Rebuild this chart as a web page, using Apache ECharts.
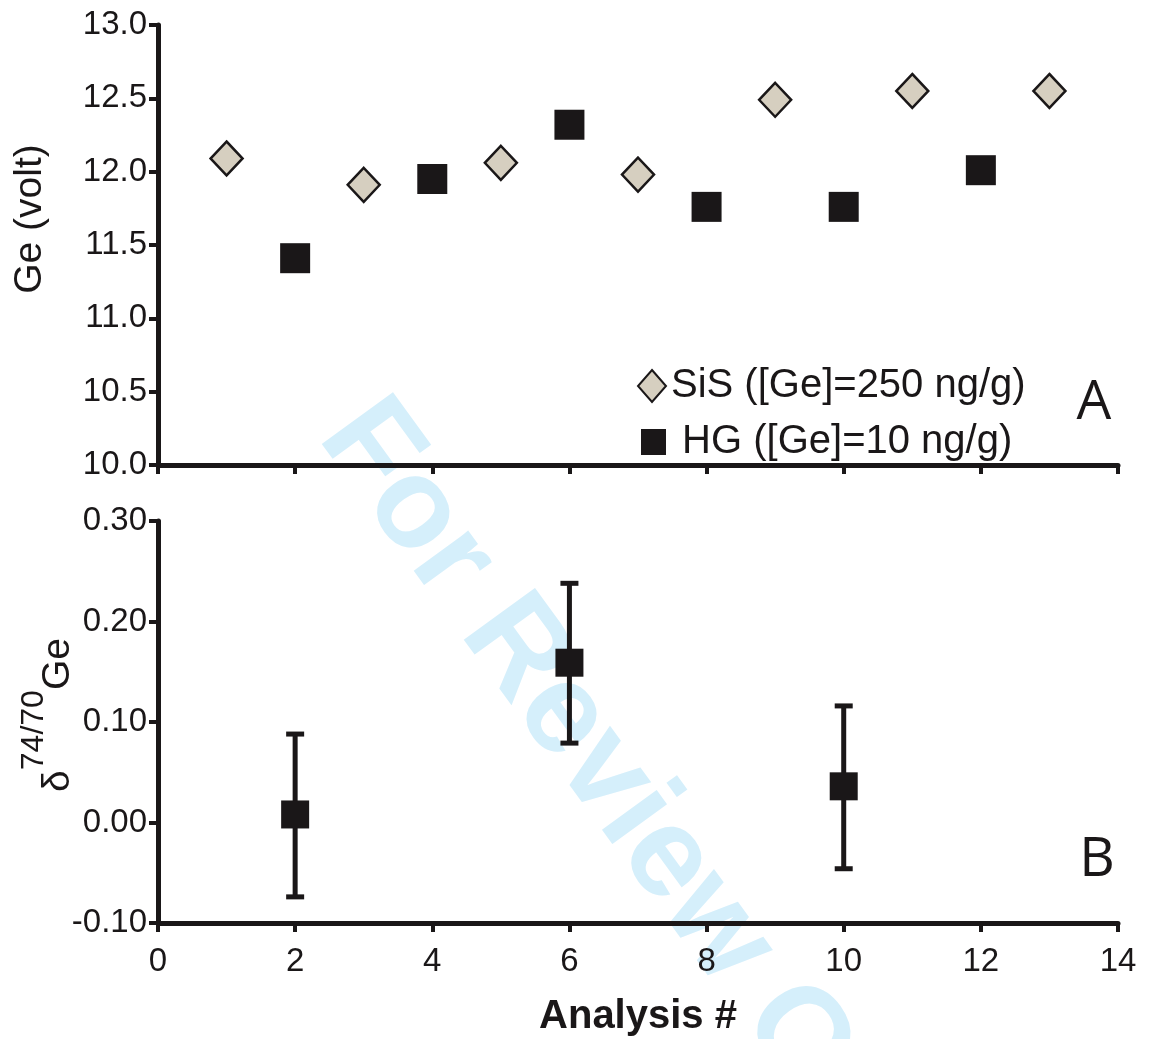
<!DOCTYPE html>
<html>
<head>
<meta charset="utf-8">
<title>Ge signal and delta 74/70 Ge</title>
<script src="https://cdn.jsdelivr.net/npm/echarts@6/dist/echarts.min.js"></script>
<style>
  html, body { margin: 0; padding: 0; background: #fff; }
  #chart { width: 1150px; height: 1039px; }
</style>
</head>
<body>
<div id="chart"></div>
<script>
// panel A : Ge intensity (volt)
var sisName = 'SiS ([Ge]=250 ng/g)';
var hgName = 'HG ([Ge]=10 ng/g)';
var sisX = [1, 3, 5, 7, 9, 11, 13];
var sisVolt = [12.09, 11.91, 12.06, 11.98, 12.49, 12.55, 12.55];
var hgX = [2, 4, 6, 8, 10, 12];
var hgVolt = [11.41, 11.95, 12.32, 11.76, 11.76, 12.01];

// panel B : delta 74/70 Ge of HG, with error bars
var deltaX = [2, 6, 10];
var deltaVal = [0.008, 0.159, 0.036];
var deltaLow = [-0.074, 0.079, -0.046];
var deltaHigh = [0.088, 0.238, 0.116];

var ink = '#1a1718';
var font = '"Liberation Sans", Arial, sans-serif';

function pairs(xs, ys) {
  return xs.map(function (x, i) { return [x, ys[i]]; });
}

var axisLine = { show: true, onZero: false, lineStyle: { color: ink, width: 5 } };
var axisTick = { show: true, length: 9, lineStyle: { color: ink, width: 4 } };

var option = {
  backgroundColor: '#fff',
  animation: false,
  grid: [
    { left: 158, right: 32, top: 25, height: 440, outerBoundsMode: 'none' },
    { left: 158, right: 32, top: 521, height: 402, outerBoundsMode: 'none' }
  ],
  xAxis: [
    {
      gridIndex: 0, type: 'value', min: 0, max: 14, interval: 2,
      axisLine: axisLine, axisTick: axisTick,
      axisLabel: { show: false }, splitLine: { show: false }
    },
    {
      gridIndex: 1, type: 'value', min: 0, max: 14, interval: 2,
      axisLine: axisLine, axisTick: axisTick, splitLine: { show: false },
      axisLabel: { fontSize: 33, color: ink, fontFamily: font, margin: 22 },
      name: 'Analysis #', nameLocation: 'middle', nameGap: 74,
      nameTextStyle: { fontSize: 40, fontWeight: 'bold', color: ink, fontFamily: font }
    }
  ],
  yAxis: [
    {
      gridIndex: 0, type: 'value', min: 10, max: 13, interval: 0.5,
      axisLine: axisLine, axisTick: axisTick, splitLine: { show: false },
      axisLabel: {
        fontSize: 33, color: ink, fontFamily: font, margin: 11,
        formatter: function (v) { return v.toFixed(1); }
      },
      name: 'Ge (volt)', nameLocation: 'middle', nameGap: 108, nameRotate: 90,
      nameTextStyle: { fontSize: 39, color: ink, fontFamily: font, padding: [0, 0, 0, 52] }
    },
    {
      gridIndex: 1, type: 'value', min: -0.1, max: 0.3, interval: 0.1,
      axisLine: axisLine, axisTick: axisTick, splitLine: { show: false },
      axisLabel: {
        fontSize: 33, color: ink, fontFamily: font, margin: 11,
        formatter: function (v) { return v.toFixed(2); }
      },
      name: '{d|δ}{s|74/70}{g|Ge}', nameLocation: 'middle', nameGap: 80, nameRotate: 90,
      nameMoveOverlap: false,
      nameTextStyle: {
        color: ink, fontFamily: font, padding: [0, 0, 0, 14],
        rich: {
          d: { fontSize: 39, lineHeight: 60, verticalAlign: 'bottom', color: ink, fontFamily: font },
          s: { fontSize: 32, verticalAlign: 'top', color: ink, fontFamily: font },
          g: { fontSize: 39, lineHeight: 60, verticalAlign: 'bottom', color: ink, fontFamily: font }
        }
      }
    }
  ],
  legend: [
    {
      data: [sisName], icon: 'diamond', orient: 'vertical',
      left: 637, top: 366, padding: 0, itemWidth: 28, itemHeight: 32,
      selectedMode: false,
      textStyle: { fontSize: 40, color: ink, fontFamily: font }
    },
    {
      data: [hgName], icon: 'rect', orient: 'vertical',
      left: 641, top: 422, padding: 0, itemWidth: 25, itemHeight: 26,
      selectedMode: false,
      formatter: function (name) { return ' ' + name; },
      textStyle: { fontSize: 40, color: ink, fontFamily: font }
    }
  ],
  graphic: {
    elements: [
      {
        type: 'text', x: 640, y: 822, rotation: -54 * Math.PI / 180, z: -10, silent: true,
        style: {
          text: 'For Review Only', x: 0, y: 0, textAlign: 'center', textVerticalAlign: 'middle',
          font: 'bold 128px "Liberation Sans", Arial, sans-serif', fill: '#d5effb'
        }
      },
      {
        type: 'text', x: 1094, y: 403,
        style: {
          text: 'A', textAlign: 'center', textVerticalAlign: 'middle',
          font: '55px "Open Sans", sans-serif', fill: ink
        }
      },
      {
        type: 'text', x: 1097, y: 860,
        style: {
          text: 'B', textAlign: 'center', textVerticalAlign: 'middle',
          font: '55px "Open Sans", sans-serif', fill: ink
        }
      }
    ]
  },
  series: [
    {
      name: sisName, type: 'scatter', xAxisIndex: 0, yAxisIndex: 0,
      symbol: 'diamond', symbolSize: [32, 34], z: 3,
      itemStyle: { color: '#d6cfc0', borderColor: ink, borderWidth: 2.5, opacity: 1 },
      data: pairs(sisX, sisVolt)
    },
    {
      name: hgName, type: 'scatter', xAxisIndex: 0, yAxisIndex: 0,
      symbol: 'rect', symbolSize: 30, z: 3,
      itemStyle: { color: ink, opacity: 1 },
      data: pairs(hgX, hgVolt)
    },
    {
      name: 'HG error', type: 'custom', xAxisIndex: 1, yAxisIndex: 1, z: 2,
      renderItem: function (params, api) {
        var x = api.value(0);
        var top = api.coord([x, api.value(2)]);
        var bot = api.coord([x, api.value(1)]);
        var half = 9;
        var st = { stroke: ink, lineWidth: 5 };
        return {
          type: 'group',
          children: [
            { type: 'line', shape: { x1: top[0], y1: top[1], x2: bot[0], y2: bot[1] }, style: st },
            { type: 'line', shape: { x1: top[0] - half, y1: top[1], x2: top[0] + half, y2: top[1] }, style: st },
            { type: 'line', shape: { x1: bot[0] - half, y1: bot[1], x2: bot[0] + half, y2: bot[1] }, style: st }
          ]
        };
      },
      data: deltaX.map(function (x, i) { return [x, deltaLow[i], deltaHigh[i]]; })
    },
    {
      name: 'HG delta', type: 'scatter', xAxisIndex: 1, yAxisIndex: 1,
      symbol: 'rect', symbolSize: 28, z: 3,
      itemStyle: { color: ink, opacity: 1 },
      data: pairs(deltaX, deltaVal)
    }
  ]
};

var chart = echarts.init(document.getElementById('chart'));
chart.setOption(option);
</script>
</body>
</html>
